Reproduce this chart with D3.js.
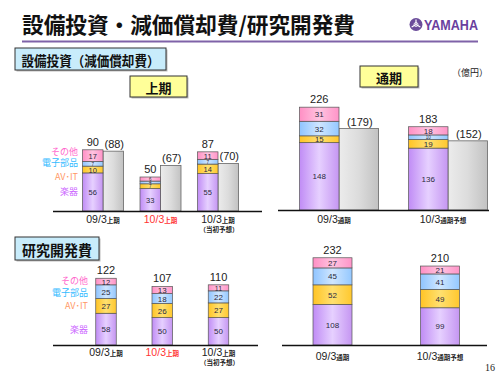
<!DOCTYPE html>
<html><head><meta charset="utf-8">
<script src="https://cdn.jsdelivr.net/npm/d3@7"></script>
<style>body{margin:0;background:#fff}svg{display:block}</style>
</head><body><svg id="c" width="500" height="375"></svg>
<script>
// ---------- DATA ----------
const seriesNames = ["楽器", "AV･IT", "電子部品", "その他"];
const halfCats = ["09/3", "10/3", "10/3"];
const halfSuffix = ["上期", "上期", "上期"];
const halfNote = ["", "", "（当初予想）"];
const fullCats = ["09/3", "10/3"];
const fullSuffix = ["通期", "通期予想"];
// Capital expenditure, first half
const capexHalfInstruments = [56, 33, 55];
const capexHalfAvIt = [10, 7, 14];
const capexHalfElectronic = [7, 4, 7];
const capexHalfOther = [17, 6, 11];
const capexHalfTotal = [90, 50, 87];
const deprHalf = [88, 67, 70];
// Capital expenditure, full year
const capexFullInstruments = [148, 136];
const capexFullAvIt = [15, 19];
const capexFullElectronic = [32, 10];
const capexFullOther = [31, 18];
const capexFullTotal = [226, 183];
const deprFull = [179, 152];
// R&D, first half
const rdHalfInstruments = [58, 50, 50];
const rdHalfAvIt = [27, 26, 27];
const rdHalfElectronic = [25, 18, 22];
const rdHalfOther = [12, 13, 11];
const rdHalfTotal = [122, 107, 110];
// R&D, full year
const rdFullInstruments = [108, 99];
const rdFullAvIt = [52, 49];
const rdFullElectronic = [45, 41];
const rdFullOther = [27, 21];
const rdFullTotal = [232, 210];

// ---------- STYLE ----------
const JP = "'Noto Sans CJK JP','Noto Sans',sans-serif";
const NUM = "'Liberation Sans',Arial,sans-serif";
const legendColors = ["#cc66ff", "#ff9966", "#33bbff", "#ff66cc"];
const segGrad = [["#c08cf5", "#e6d0ff", "#c596f2"], ["#ffc425", "#ffe070", "#ffc82e"],
                 ["#8fc4ff", "#cfe6ff", "#94c8ff"], ["#ff8fc4", "#ffc4e0", "#ff94c8"]];

const svg = d3.select("#c");
const defs = svg.append("defs");
function grad(id, stops) {
  const g = defs.append("linearGradient").attr("id", id).attr("x1", 0).attr("x2", 1).attr("y1", 0).attr("y2", 0);
  stops.forEach((c, i) => g.append("stop").attr("offset", (i / (stops.length - 1)) * 100 + "%").attr("stop-color", c));
}
segGrad.forEach((s, i) => grad("g" + i, s));
grad("gray", ["#ececec", "#dcdcdc", "#c2c2c2"]);

svg.append("rect").attr("width", 500).attr("height", 375).attr("fill", "#fff");

// ---------- HEADER ----------
svg.append("text").attr("x", 22).attr("y", 33).attr("font-family", JP).attr("font-weight", 700)
  .attr("font-size", 22).attr("textLength", 333).attr("lengthAdjust", "spacingAndGlyphs")
  .attr("fill", "#111").text("設備投資・減価償却費/研究開発費");
svg.append("line").attr("x1", 22).attr("x2", 478).attr("y1", 41.5).attr("y2", 41.5)
  .attr("stroke", "#7f62a8").attr("stroke-width", 2);
// logo
const lg = svg.append("g").attr("transform", "translate(416,24.5)");
lg.append("circle").attr("r", 6.5).attr("fill", "#6b4c9a");
[0, 120, 240].forEach(a => {
  lg.append("line").attr("x1", 0).attr("y1", 0).attr("x2", 0).attr("y2", -5)
    .attr("stroke", "#fff").attr("stroke-width", 1.2).attr("transform", `rotate(${a})`);
});
lg.append("circle").attr("r", 2).attr("fill", "none").attr("stroke", "#fff").attr("stroke-width", 0.8);
svg.append("text").attr("x", 424).attr("y", 30).attr("font-family", NUM).attr("font-weight", 700)
  .attr("font-size", 15).attr("textLength", 54).attr("lengthAdjust", "spacingAndGlyphs")
  .attr("fill", "#6a3f9e").text("YAMAHA");

function box(x, y, w, h, fill, label, fs, tl) {
  svg.append("rect").attr("x", x + 1.5).attr("y", y + 1.5).attr("width", w).attr("height", h).attr("fill", "#bbb");
  svg.append("rect").attr("x", x).attr("y", y).attr("width", w).attr("height", h)
    .attr("fill", fill).attr("stroke", "#333").attr("stroke-width", 1);
  const t = svg.append("text").attr("x", x + w / 2).attr("y", y + h / 2 + 1).attr("text-anchor", "middle")
    .attr("dominant-baseline", "central").attr("font-family", JP).attr("font-weight", 700)
    .attr("font-size", fs).attr("fill", "#111").text(label);
  if (tl) t.attr("textLength", tl).attr("lengthAdjust", "spacingAndGlyphs");
}
box(15, 48, 151, 22, "#c8ecfb", "設備投資（減価償却費）", 13.5, 138);
box(130, 76, 57, 21, "#ffff99", "上期", 13);
box(360, 66, 58, 21, "#ffff99", "通期", 13);
box(15, 237, 84, 23, "#c8ecfb", "研究開発費", 14.5, 70);
svg.append("text").attr("x", 452).attr("y", 76).attr("font-family", JP).attr("font-size", 9)
  .attr("fill", "#222").text("（億円）");
svg.append("text").attr("x", 495).attr("y", 371).attr("text-anchor", "end").attr("font-family", "'Liberation Serif',serif")
  .attr("font-size", 10).attr("fill", "#222").text("16");

// ---------- PANELS ----------
function panel(o) {
  const g = svg.append("g");
  const y = d3.scaleLinear().domain([0, o.ymax]).range([o.base, o.base - o.ymax * o.ppu]);
  const x = d3.scalePoint().domain(d3.range(o.cats.length)).range(o.xr);
  const rows = o.cats.map((c, i) => { const r = { i }; o.series.forEach((s, k) => r["s" + k] = s[i]); return r; });
  const stack = d3.stack().keys(o.series.map((s, k) => "s" + k))(rows);
  const bx = i => o.depr ? x(i) - o.bw : x(i) - o.bw / 2;
  if (o.depr) {
    g.selectAll(".dep").data(o.depr).join("rect")
      .attr("x", (d, i) => x(i)).attr("width", o.bw)
      .attr("y", d => y(d)).attr("height", d => y(0) - y(d))
      .attr("fill", "url(#gray)").attr("stroke", "#666").attr("stroke-width", 0.8);
    g.selectAll(".depl").data(o.depr).join("text")
      .attr("x", (d, i) => x(i) + o.bw / 2 + 1).attr("y", d => y(d) - 3)
      .attr("text-anchor", "middle").attr("font-family", NUM).attr("font-size", o.tfs)
      .attr("fill", "#222").text(d => `(${d})`);
  }
  stack.forEach((layer, k) => {
    g.selectAll(".seg" + k).data(layer).join("rect")
      .attr("x", d => bx(d.data.i)).attr("width", o.bw)
      .attr("y", d => y(d[1])).attr("height", d => y(d[0]) - y(d[1]))
      .attr("fill", `url(#g${k})`).attr("stroke", "#555").attr("stroke-width", 0.7);
    g.selectAll(".segl" + k).data(layer).join("text")
      .attr("x", d => bx(d.data.i) + o.bw / 2).attr("y", d => (y(d[0]) + y(d[1])) / 2 + 0.5)
      .attr("text-anchor", "middle").attr("dominant-baseline", "central")
      .attr("font-family", NUM).attr("font-size", d => { const h = y(d[0]) - y(d[1]); return h < 6 ? 4.5 : Math.min(o.sfs, h + 1); })
      .attr("fill", "#2a2a40").text(d => d[1] - d[0]);
  });
  g.selectAll(".tot").data(o.totals).join("text")
    .attr("x", (d, i) => bx(i) + o.bw / 2).attr("y", d => y(d) - 4)
    .attr("text-anchor", "middle").attr("font-family", NUM).attr("font-size", o.tfs)
    .attr("fill", "#222").text(d => d);
  g.append("line").attr("x1", o.axis[0]).attr("x2", o.axis[1]).attr("y1", o.base + 0.5).attr("y2", o.base + 0.5)
    .attr("stroke", "#111").attr("stroke-width", 1.6);
  o.cats.forEach((c, i) => {
    const t = g.append("text").attr("x", x(i) + (o.lx || 0)).attr("y", o.ly).attr("text-anchor", "middle")
      .attr("font-family", NUM).attr("font-size", 10.5).attr("fill", o.red && o.red[i] ? "#ff3333" : "#222");
    t.append("tspan").text(c);
    t.append("tspan").attr("font-family", JP).attr("font-weight", 700).attr("font-size", 6.5).text(o.suffix[i]);
    if (o.note && o.note[i]) {
      g.append("text").attr("x", x(i) + 1).attr("y", o.ly + 9).attr("text-anchor", "middle")
        .attr("font-family", JP).attr("font-weight", 700).attr("font-size", 6.5).attr("fill", "#222").text(o.note[i]);
    }
  });
  if (o.legendX) {
    const first = stack.map(l => l[0]);
    first.forEach((d, k) => {
      g.append("text").attr("x", o.legendX).attr("y", (y(d[0]) + y(d[1])) / 2 + (o.nudge ? o.nudge[k] : 0))
        .attr("text-anchor", "end").attr("dominant-baseline", "central").attr("font-family", JP)
        .attr("font-size", 9).attr("fill", legendColors[k]).text(seriesNames[k]);
    });
  }
}

panel({ cats: halfCats, suffix: halfSuffix, note: halfNote, red: [0, 1, 0],
  series: [capexHalfInstruments, capexHalfAvIt, capexHalfElectronic, capexHalfOther],
  totals: capexHalfTotal, depr: deprHalf, ymax: 100, base: 211, ppu: 0.68,
  xr: [103, 218], bw: 20.5, axis: [53, 262], ly: 223, sfs: 7.5, tfs: 11,
  legendX: 78, nudge: [0, 7, -1, -4] });

panel({ cats: fullCats, suffix: fullSuffix,
  series: [capexFullInstruments, capexFullAvIt, capexFullElectronic, capexFullOther],
  totals: capexFullTotal, depr: deprFull, ymax: 250, base: 210, ppu: 0.455,
  xr: [339, 448], bw: 39.5, axis: [278, 489], ly: 223, lx: -5, sfs: 8, tfs: 11 });

panel({ cats: halfCats, suffix: halfSuffix, note: halfNote, red: [0, 1, 0],
  series: [rdHalfInstruments, rdHalfAvIt, rdHalfElectronic, rdHalfOther],
  totals: rdHalfTotal, ymax: 130, base: 345, ppu: 0.547,
  xr: [106, 218.5], bw: 20.5, axis: [53, 258], ly: 356, sfs: 8, tfs: 11,
  legendX: 88, nudge: [0, 0, 1, -1.5] });

panel({ cats: fullCats, suffix: fullSuffix,
  series: [rdFullInstruments, rdFullAvIt, rdFullElectronic, rdFullOther],
  totals: rdFullTotal, ymax: 250, base: 345, ppu: 0.376,
  xr: [332.5, 440], bw: 39, axis: [282, 487], ly: 360, lx: 0, sfs: 8, tfs: 11 });
</script></body></html>
